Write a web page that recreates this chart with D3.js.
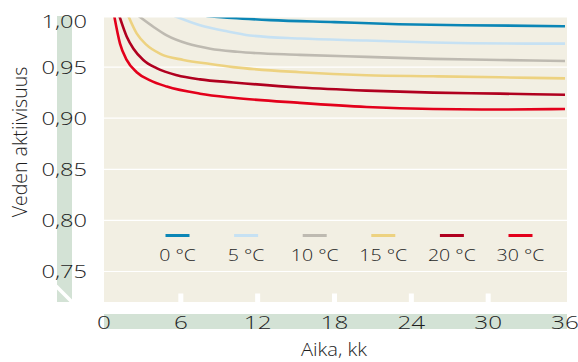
<!DOCTYPE html>
<html>
<head>
<meta charset="utf-8">
<script src="https://cdn.jsdelivr.net/npm/d3@7"></script>
<style>
  body { margin: 0; background: #fff; }
  svg { display: block; font-family: "Open Sans", sans-serif; font-weight: 300; }
</style>
</head>
<body>
<svg id="chart" width="578" height="362"></svg>
<script>
// water activity vs storage time
const labels = ["0 °C", "5 °C", "10 °C", "15 °C", "20 °C", "30 °C"]

const months0 = [8, 10, 13, 18, 23, 28, 36]
const aw0 = [1.0, 0.998, 0.996, 0.994, 0.992, 0.991, 0.990]

const months5 = [5.5, 7.5, 9.6, 11.4, 15.3, 20.5, 25.7, 33, 36]
const aw5 = [1.0, 0.991, 0.985, 0.981, 0.978, 0.976, 0.974, 0.973, 0.973]

const months10 = [2.7, 3.85, 4.9, 6.5, 8.3, 10.4, 15.3, 20.5, 25.7, 30.9, 36]
const aw10 = [1.0, 0.9895, 0.981, 0.973, 0.968, 0.965, 0.962, 0.960, 0.958, 0.957, 0.956]

const months15 = [1.9, 2.55, 3.3, 4.4, 6.2, 8.3, 10.1, 15.3, 20.5, 25.7, 30.9, 36]
const aw15 = [1.0, 0.983, 0.972, 0.963, 0.957, 0.953, 0.950, 0.945, 0.942, 0.941, 0.940, 0.939]

const months20 = [1.2, 1.77, 2.3, 3.07, 4.1, 5.7, 7.5, 10.1, 15.3, 20.5, 25.7, 30.9, 36]
const aw20 = [1.0, 0.980, 0.968, 0.957, 0.949, 0.942, 0.938, 0.935, 0.930, 0.927, 0.925, 0.924, 0.923]

const months30 = [0.8, 1.25, 1.77, 2.55, 3.6, 4.9, 7.5, 10.1, 15.3, 20.5, 25.7, 30.9, 36]
const aw30 = [1.0, 0.973, 0.957, 0.945, 0.937, 0.931, 0.924, 0.920, 0.915, 0.911, 0.909, 0.9085, 0.909]

const xTicks = [0, 6, 12, 18, 24, 30, 36]
const yTicks = [0.75, 0.80, 0.85, 0.90, 0.95, 1.00]

const colours = ["#0b86b6", "#c6e1f3", "#bebab1", "#edd280", "#b0001f", "#e3001b"]

const series = [
    [months0, aw0], [months5, aw5], [months10, aw10],
    [months15, aw15], [months20, aw20], [months30, aw30]
].map(([t, v], i) => ({name: labels[i], colour: colours[i], pts: t.map((m, j) => [m, v[j]])}))

const svg = d3.select("#chart")

const plot = {left: 104, right: 567, top: 17.5, bottom: 302}
const x = d3.scaleLinear().domain([0, 36]).range([104, 565])
const y = d3.scaleLinear().domain([0.75, 1.0]).range([271.5, 16])

const green = "#d3e2d5"
const textCol = "#1e1e1e"
const numStretch = 1.28

// green axis bands
svg.append("rect")
    .attr("x", 57).attr("y", 16)
    .attr("width", 15).attr("height", plot.bottom - 16)
    .attr("fill", green)
svg.append("rect")
    .attr("x", plot.left).attr("y", 314)
    .attr("width", plot.right - plot.left).attr("height", 15)
    .attr("fill", green)
// axis break slash
svg.append("line")
    .attr("x1", 56).attr("y1", 286).attr("x2", 72).attr("y2", 302)
    .attr("stroke", "#fff").attr("stroke-width", 3.5)

// plot background
svg.append("rect")
    .attr("x", plot.left).attr("y", plot.top)
    .attr("width", plot.right - plot.left).attr("height", plot.bottom - plot.top)
    .attr("fill", "#f2efe3")

svg.append("defs").append("clipPath").attr("id", "clip")
    .append("rect")
    .attr("x", plot.left).attr("y", plot.top)
    .attr("width", plot.right - plot.left).attr("height", plot.bottom - plot.top)

// gridlines
svg.append("g").selectAll("line")
    .data(yTicks.filter(d => d < 1))
    .join("line")
    .attr("x1", plot.left).attr("x2", plot.right)
    .attr("y1", d => y(d)).attr("y2", d => y(d))
    .attr("stroke", "#fff").attr("stroke-width", 1.2)

// x ticks (white notches at the bottom)
svg.append("g").selectAll("rect")
    .data(xTicks.filter(d => d > 0 && d < 36))
    .join("rect")
    .attr("x", d => x(d) - 2.5).attr("y", plot.bottom - 8.5)
    .attr("width", 5).attr("height", 8.5)
    .attr("fill", "#fff")

// curves
const line = d3.line()
    .x(d => x(d[0]))
    .y(d => y(d[1]))
    .curve(d3.curveMonotoneX)

svg.append("g").attr("clip-path", "url(#clip)")
    .selectAll("path")
    .data(series)
    .join("path")
    .attr("d", d => line(d.pts))
    .attr("fill", "none")
    .attr("stroke", d => d.colour)
    .attr("stroke-width", 2.6)

// y tick labels
svg.append("g").selectAll("text")
    .data(yTicks)
    .join("text")
    .attr("transform", d => `translate(87,${y(d) + (d === 1 ? 5 : 0)}) scale(${numStretch},1)`)
    .attr("text-anchor", "end")
    .attr("dy", "0.36em")
    .attr("font-size", 18.5)
    .attr("fill", textCol)
    .text(d => d3.format(".2f")(d).replace(".", ","))

// x tick labels
svg.append("g").selectAll("text")
    .data(xTicks)
    .join("text")
    .attr("transform", d => `translate(${x(d)},329) scale(${numStretch},1)`)
    .attr("text-anchor", "middle")
    .attr("font-size", 19)
    .attr("fill", textCol)
    .text(d => d)

// axis titles
svg.append("text")
    .attr("transform", "translate(27,142) rotate(-90)")
    .attr("text-anchor", "middle")
    .attr("font-size", 19.5)
    .attr("fill", textCol)
    .text("Veden aktiivisuus")

svg.append("text")
    .attr("transform", "translate(334,356) scale(1.12,1)")
    .attr("text-anchor", "middle")
    .attr("font-size", 18)
    .attr("fill", textCol)
    .text("Aika, kk")

// legend
const legend = svg.append("g").selectAll("g")
    .data(series)
    .join("g")
    .attr("transform", (d, i) => `translate(${177.5 + i * 68.6},0)`)

legend.append("line")
    .attr("x1", -12).attr("x2", 12)
    .attr("y1", 235.5).attr("y2", 235.5)
    .attr("stroke", d => d.colour)
    .attr("stroke-width", 3)

legend.append("text")
    .attr("transform", `translate(0,261) scale(1.15,1)`)
    .attr("text-anchor", "middle")
    .attr("font-size", 17)
    .attr("fill", textCol)
    .text(d => d.name)
</script>
</body>
</html>
